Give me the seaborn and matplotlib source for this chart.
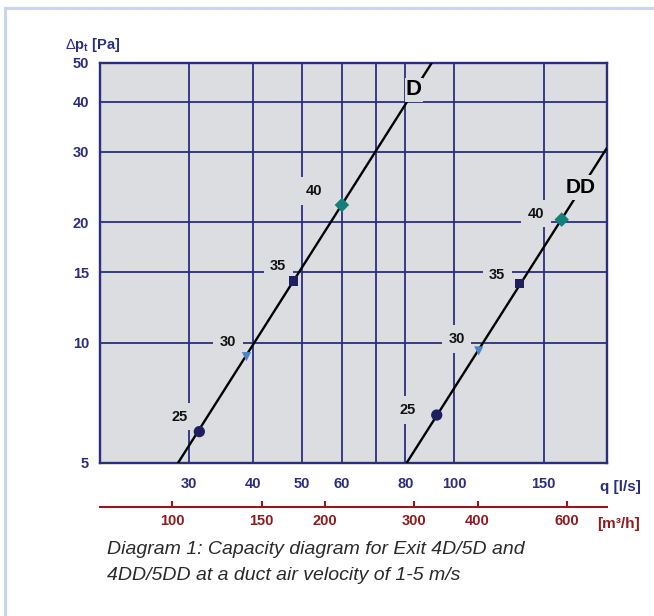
import matplotlib
matplotlib.use("Agg")
import numpy as np
import pandas as pd
import matplotlib.pyplot as plt
import seaborn as sns
from matplotlib.lines import Line2D
from matplotlib.ticker import NullLocator, FixedLocator, FixedFormatter

# ---------------- data ----------------
d_line_q = [28.5, 90.2]          # l/s
d_line_dp = [5.0, 50.0]          # Pa
dd_line_q = [80.5, 200.0]
dd_line_dp = [5.0, 30.7]

velocities = [25, 30, 35, 40]
d_q = [31.4, 38.9, 48.1, 60.0]
d_dp = [5.99, 9.22, 14.26, 22.08]
dd_q = [92.3, 111.7, 134.3, 162.8]
dd_dp = [6.59, 9.53, 14.06, 20.3]

x_ticks = [30, 40, 50, 60, 70, 80, 100, 150]
x_labels = ["30", "40", "50", "60", "", "80", "100", "150"]
y_ticks = [5, 10, 15, 20, 30, 40, 50]
y_labels = ["5", "10", "15", "20", "30", "40", "50"]
m3h_ticks = [100, 150, 200, 300, 400, 600]
m3h_labels = ["100", "150", "200", "300", "400", "600"]

caption = ["Diagram 1: Capacity diagram for Exit 4D/5D and",
           "4DD/5DD at a duct air velocity of 1-5 m/s"]

# ---------------- styling ----------------
sns.set_style("white")
plt.rcParams["font.family"] = ["Liberation Sans", "DejaVu Sans"]
plt.rcParams["mathtext.fontset"] = "custom"
plt.rcParams["mathtext.rm"] = "Liberation Sans"
plt.rcParams["mathtext.bf"] = "Liberation Sans:bold"
plt.rcParams["mathtext.it"] = "Liberation Sans:italic"

NAVY = "#2a2d80"
GRID = "#2a2d80"
RED = "#8e1c1f"
BG = "#dcdde0"
DARK = "#1d1f5f"
marker_colors = {25: DARK, 30: "#4b82c9", 35: DARK, 40: "#138179"}
marker_shapes = {25: "o", 30: "v", 35: "s", 40: "D"}
marker_sizes = {25: 66, 30: 44, 35: 44, 40: 55}

W, H = 654, 616
fig = plt.figure(figsize=(W / 100, H / 100), dpi=100)
fig.patch.set_facecolor("white")

L, R, T, B = 100, 607, 63, 463
ax = fig.add_axes([L / W, 1 - B / H, (R - L) / W, (B - T) / H])
ax.set_facecolor(BG)
ax.set_xscale("log")
ax.set_yscale("log")
ax.set_xlim(20, 200)
ax.set_ylim(5, 50)

# lines
sns.lineplot(x=d_line_q, y=d_line_dp, ax=ax, color="black", lw=1.7,
             sort=False, estimator=None, zorder=3)
sns.lineplot(x=dd_line_q, y=dd_line_dp, ax=ax, color="black", lw=1.7,
             sort=False, estimator=None, zorder=3)

# markers
pts = pd.DataFrame({
    "q": d_q + dd_q,
    "dp": d_dp + dd_dp,
    "velocity": velocities + velocities,
})
sns.scatterplot(data=pts, x="q", y="dp", hue="velocity", style="velocity",
                size="velocity", palette=marker_colors, markers=marker_shapes,
                sizes=marker_sizes, linewidth=0, legend=False, ax=ax, zorder=6)

# velocity labels (offsets in pixels from the marker)
d_offsets = [(-20, 15), (-18.5, 15), (-15, 15), (-27.5, 14)]
dd_offsets = [(-29, 5), (-22, 12), (-22, 8.5), (-25.5, 6)]
box = dict(boxstyle="square,pad=0.45", fc=BG, ec="none")
for qs, dps, offs in [(d_q, d_dp, d_offsets), (dd_q, dd_dp, dd_offsets)]:
    for v, q, dp, off in zip(velocities, qs, dps, offs):
        ax.annotate(str(v), (q, dp), xytext=off, textcoords="offset pixels",
                    ha="center", va="center", fontsize=10.5, fontweight="bold",
                    color="#111111", bbox=box, zorder=5)

# curve names
ax.annotate("D", (d_line_q[1], d_line_dp[1]), xytext=(-18, -27),
            textcoords="offset pixels", ha="center", va="center",
            fontsize=16, fontweight="bold", color="black",
            bbox=dict(boxstyle="square,pad=0.05", fc=BG, ec="none"), zorder=5)
ax.annotate("DD", (dd_line_q[1], dd_line_dp[1]), xytext=(-26, -40),
            textcoords="offset pixels", ha="center", va="center",
            fontsize=15, fontweight="bold", color="black",
            bbox=dict(boxstyle="square,pad=0.15", fc=BG, ec="none"), zorder=5)

# axes, ticks, grid
ax.xaxis.set_major_locator(FixedLocator(x_ticks))
ax.xaxis.set_major_formatter(FixedFormatter(x_labels))
ax.xaxis.set_minor_locator(NullLocator())
ax.yaxis.set_major_locator(FixedLocator(y_ticks))
ax.yaxis.set_major_formatter(FixedFormatter(y_labels))
ax.yaxis.set_minor_locator(NullLocator())
ax.grid(True, which="major", color=GRID, lw=1.3, zorder=1)
ax.set_axisbelow(True)
for s in ax.spines.values():
    s.set_visible(True)
    s.set_color(NAVY)
    s.set_linewidth(1.7)
ax.tick_params(axis="x", length=0, pad=10, labelsize=10.5, labelcolor=NAVY)
ax.tick_params(axis="y", length=3, width=1.5, color=NAVY, pad=5,
               labelsize=10.5, labelcolor=NAVY)
for lab in ax.get_xticklabels() + ax.get_yticklabels():
    lab.set_fontweight("bold")
ax.set_xlabel("")
ax.set_ylabel("")

# secondary axis in m3/h
sec = ax.secondary_xaxis(-0.11, functions=(lambda q: q * 3.6, lambda m: m / 3.6))
sec.xaxis.set_major_locator(FixedLocator(m3h_ticks))
sec.xaxis.set_major_formatter(FixedFormatter(m3h_labels))
sec.xaxis.set_minor_locator(NullLocator())
sec.spines["bottom"].set_color(RED)
sec.spines["bottom"].set_linewidth(1.5)
sec.tick_params(axis="x", direction="in", length=4, width=1.5, color=RED,
                pad=5, labelsize=10.5, labelcolor=RED)
for lab in sec.get_xticklabels():
    lab.set_fontweight("bold")

# axis titles
fig.text(93 / W, 1 - 45 / H, r"$\Delta$p$_\mathbf{t}$ [Pa]", ha="center",
         va="center", fontsize=10.5, fontweight="bold", color=NAVY)
fig.text(620 / W, 1 - 487 / H, "q [l/s]", ha="center", va="center",
         fontsize=11, fontweight="bold", color=NAVY)
fig.text(618 / W, 1 - 524 / H, "[m³/h]", ha="center", va="center",
         fontsize=11, fontweight="bold", color=RED)

# caption
fig.text(107 / W, 1 - 550 / H, caption[0], ha="left", va="center",
         fontsize=14, style="italic", color="#2a2a2a")
fig.text(107 / W, 1 - 575 / H, caption[1], ha="left", va="center",
         fontsize=14, style="italic", color="#2a2a2a")

# light frame (top and left)
FRAME = "#c9d4ee"
fig.add_artist(Line2D([5 / W, 1], [1 - 8 / H, 1 - 8 / H], transform=fig.transFigure,
                      color=FRAME, lw=2.2))
fig.add_artist(Line2D([5 / W, 5 / W], [0, 1 - 8 / H], transform=fig.transFigure,
                      color=FRAME, lw=2.2))

fig.savefig("out.png", dpi=100)
